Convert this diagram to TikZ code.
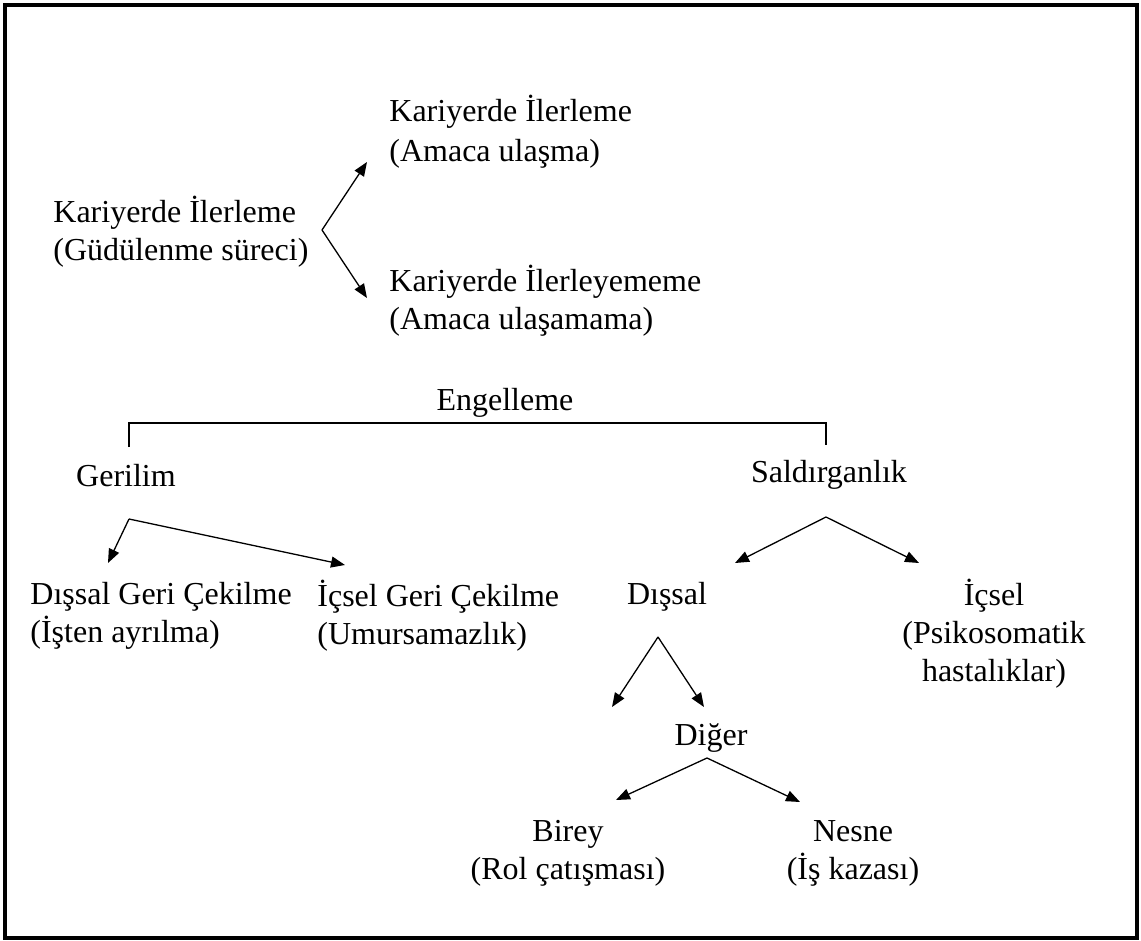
\documentclass[tikz,border=0pt]{standalone}
\usepackage{fontspec}
\setmainfont{Liberation Serif}
\usetikzlibrary{arrows.meta}

\begin{document}
\begin{tikzpicture}[x=0.5pt, y=-0.5pt,
    every node/.style={inner sep=0pt, font=\fontsize{16}{19}\selectfont},
    lft/.style={align=left, anchor=west},
    ctr/.style={align=center},
    arr/.style={-{Triangle[length=7pt,width=5.5pt]}, line width=0.65pt}]
            \useasboundingbox (0,0) rectangle (1141,941);
            \draw[line width=1.8pt] (5,5) rectangle (1137,938);

            \node[lft] (start) at (53,232) {Kariyerde İlerleme\\(Güdülenme süreci)};
            \node[lft, font=\fontsize{16}{20}\selectfont] (up) at (389,132) {Kariyerde İlerleme\\(Amaca ulaşma)};
            \node[lft] (down) at (389,301) {Kariyerde İlerleyememe\\(Amaca ulaşamama)};
            \node (block) at (505,403) {Engelleme};
            \node (stress) at (126,476) {Gerilim};
            \node (aggr) at (829,475) {Saldırganlık};
            \node[lft] (outw) at (30,616) {Dışsal Geri Çekilme\\(İşten ayrılma)};
            \node[lft] (inw) at (317,616) {İçsel Geri Çekilme\\(Umursamazlık)};
            \node (ext) at (667,597) {Dışsal};
            \node[ctr] (int) at (994,634) {İçsel\\(Psikosomatik\\hastalıklar)};
            \node (other) at (711,738) {Diğer};
            \node[ctr] (pers) at (568,853) {Birey\\(Rol çatışması)};
            \node[ctr] (obj) at (853,853) {Nesne\\(İş kazası)};

            \coordinate (f1) at (322,230); \coordinate (t1) at (367,162); \coordinate (t2) at (367,298);
            \coordinate (bl) at (129,447); \coordinate (bc1) at (129,423);
            \coordinate (bc2) at (826,423); \coordinate (br) at (826,445);
            \coordinate (f2) at (129,519); \coordinate (t3) at (108,563); \coordinate (t4) at (345,565);
            \coordinate (f3) at (826,517); \coordinate (t5) at (735,563); \coordinate (t6) at (919,563);
            \coordinate (f4) at (658,637); \coordinate (t7) at (612,707); \coordinate (t8) at (704,707);
            \coordinate (f5) at (707,758); \coordinate (t9) at (616,800); \coordinate (t10) at (800,802);

            \draw[line width=0.9pt] (bl) -- (bc1) -- (bc2) -- (br);
            \draw[arr] (f1) -- (t1); \draw[arr] (f1) -- (t2);
            \draw[arr] (f2) -- (t3); \draw[arr] (f2) -- (t4);
            \draw[arr] (f3) -- (t5); \draw[arr] (f3) -- (t6);
            \draw[arr] (f4) -- (t7); \draw[arr] (f4) -- (t8);
            \draw[arr] (f5) -- (t9); \draw[arr] (f5) -- (t10);
        \end{tikzpicture}
\end{document}
